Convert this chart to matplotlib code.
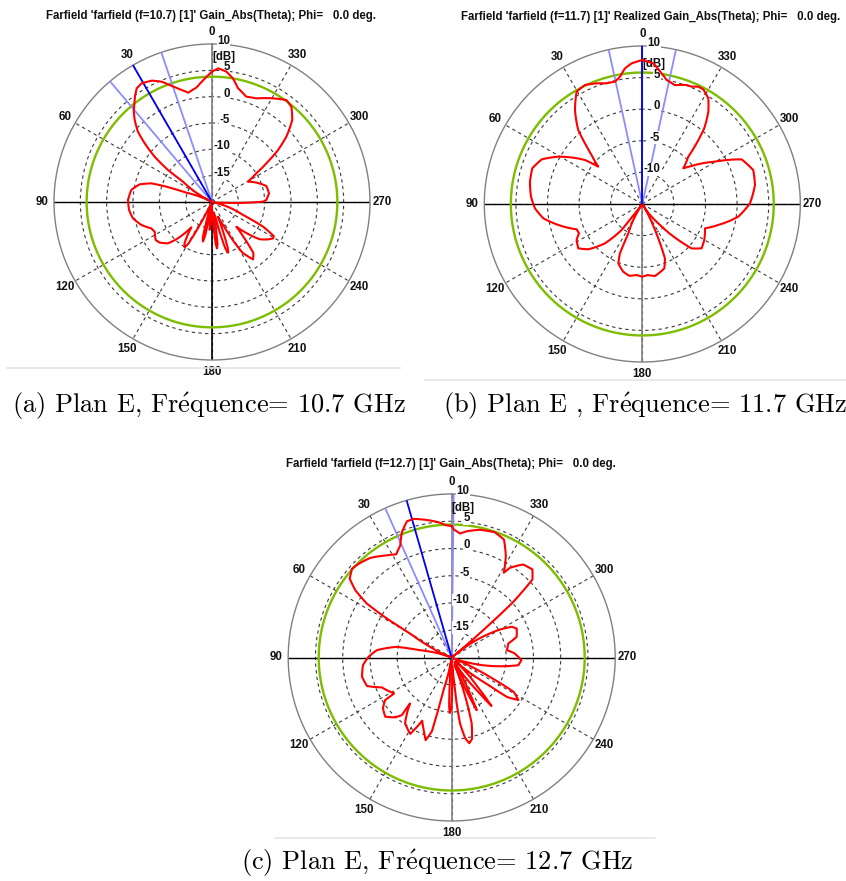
import numpy as np
import matplotlib.pyplot as plt
from matplotlib.lines import Line2D

plt.rcParams['mathtext.fontset'] = 'cm'

# ---------------------------------------------------------------------------
# Data (theta in deg, gain in dB)
# ---------------------------------------------------------------------------
theta_a = [0, 3.2, 7.6, 12.2, 15.2, 19.2, 22.7, 26.4, 30.7, 33.5, 36.2, 39.2, 40.4,
           43.3, 46.5, 48.9, 51.7, 54.0, 55.0, 60.4, 63, 70, 71.4, 72.9, 76.3, 81.5,
           88.6, 95.5, 101.7, 108, 113.5, 117.4, 124, 127.8, 133.2, 136.3, 138.9,
           140.8, 146.5, 148.9, 150.5, 152, 153.5, 163, 165.5, 167.2, 168.5, 170,
           173.5, 175.2, 176.5, 178, 183, 185, 186.2, 187.5, 189.5, 193, 196, 197.5,
           199, 202, 206, 211, 215.6, 219, 222, 224.6, 232, 236.3, 239.2, 241.1,
           244.2, 247.2, 254.7, 258, 266, 268.5, 270.4, 272.1, 278.6, 286.4, 293.6,
           299.5, 302.9, 305.4, 308.2, 311.3, 315.6, 320.2, 323.9, 329.5, 336.8,
           342, 347.1, 350.4, 353.7, 357.3, 360]
gain_a = [4.75, 3.52, 1.96, 1.24, 2.03, 3.32, 4.76, 5.73, 6.19, 5.89, 4.77, 3.35, 2.94,
          1.4, -0.6, -3.04, -6.1, -9.7, -13.3, -17.3, -19.8, -14.8, -10.9, -7.95, -5.86,
          -4.51, -4.05, -4.18, -4.68, -5.9, -7.44, -7.74, -7.1, -7.42, -8.54, -10.2,
          -12.1, -13.8, -10.5, -9.95, -11, -15, -19.5, -18, -13, -12.3, -13.5, -19,
          -17, -14.7, -16, -19.5, -17, -12, -11.15, -12, -18, -17, -10.8, -9.9,
          -10.8, -17, -15, -8.8, -6.6, -7.5, -11, -13.4, -8.5, -7.2, -6.5, -6.6,
          -9.2, -13.6, -17.8, -19.8, -18.2, -14, -10.3, -9.7, -9.05, -9.24, -10.8,
          -12.15, -10, -7.34, -4.05, -1.2, 1.78, 3.55, 3.96, 2.84, 1.4,
          1.03, 2.15, 3.8, 4.9, 5.41, 4.75]

theta_b = [0, 4.3, 7.3, 9.9, 12.6, 16.5, 20.7, 25.7, 30.3, 35.6, 40.9, 43.4, 46, 49.7,
           52.5, 60.6, 66.1, 72, 78.8, 86.2, 92.3, 98.2, 104, 111.1, 114.8, 118.7,
           124.7, 130, 136.5, 141.5, 141.8, 146, 150.6, 154.5, 155.6, 158, 164.3,
           169.7, 175.4, 180, 184.3, 190, 198.9, 202.6, 204, 206, 211, 219.6, 225,
           228, 233.2, 239.9, 248.8, 254.6, 262.5, 270.4, 279.6, 287, 294.2, 300.2,
           307.6, 311, 315.8, 318.2, 320.7, 324.4, 328, 332, 334.5, 337.2, 339.6,
           343.2, 344.7, 348.9, 351.6, 355.5, 360]
gain_b = [7.78, 7.32, 6.63, 5.45, 4.83, 4.91, 5.41, 5.9, 5.6, 3.3, 0.48, -1.8, -3.85, -5.86,
          -3.57, 0.26, 2.42, 3.3, 3.12, 2.65, 2.0, 0.83, -1.3, -3.87, -3.97, -3.15,
          -2.68, -3.85, -6.42, -9.75, -13.1, -14.8, -12.1, -9.86, -6.43, -4.87, -3.87,
          -3.45, -3.73, -3.5, -3.73, -3.43, -4.24, -5.69, -7.7, -10.4, -14.8, -11.03, -6.95,
          -4.5, -3.29, -3.66, -4.36, -2.53, 0.32, 2.04, 3.08, 3.36, 2.23, -1.69,
          -5.15, -6.4, -4.56, -2.1, 0.48, 2.96, 4.71, 5.55, 5.57, 5.14, 5.1,
          4.67, 4.5, 5.0, 5.9, 7.3, 7.78]

theta_c = [0, 2.2, 5.6, 10.3, 15.4, 18.2, 21.7, 24.7, 28.3, 33.1, 39.2, 44.8, 48.3, 52.3,
           55.1, 57.6, 59, 60, 63.8, 70, 77, 79, 84.4, 89.5, 94.9, 102.1, 108.6, 113.2,
           122, 122.6, 126.5, 131.7, 136.6, 139.1, 137.8, 144.7, 151.5, 155, 159.5,
           162.5, 165, 166, 170, 175.5, 177, 178, 179.5, 181, 183, 185, 186, 187.2,
           189.5, 191.6, 194, 196.9, 199.7, 202, 203.5, 205.4, 207.5, 211, 217, 219.4,
           221.5, 227, 233, 234.5, 237.5, 241, 243, 247, 252, 258, 263.4, 267.8, 274,
           277.6, 283.9, 287.6, 294, 297, 300.1, 305.9, 309.5, 311, 312, 314, 317.5,
           322.5, 327, 328.4, 331.9, 336.1, 341, 347.5, 353, 356.2, 359, 360]
gain_c = [4.1, 4.23, 4.94, 5.65, 6.38, 6.3, 4.74, 2.6, 1.5, 2.33, 3.6, 4.23, 4.49, 3.65,
          1.55, -1.6, -6.15, -11.2, -15.6, -19.7, -14.05, -9.75, -6.2, -4.75, -3.66, -3.17,
          -3.6, -6.07, -7.56, -5.5, -4.3, -3.67, -4.9, -6.0, -8.6, -5.2, -4.04, -7.2,
          -5.5, -4.1, -6, -14, -19.5, -16, -11, -9.8, -10.5, -15, -19.5, -17, -12, -7.8,
          -5, -3.94, -4.6, -7.4, -13.6, -18.5, -14, -9.3, -14, -19, -13, -8.5,
          -13, -19, -12, -7.5, -5.5, -7, -12, -19.5, -17.5, -12.5, -7.7, -7.2, -8.5,
          -9.8, -9.3, -7.5, -6.94, -7.6, -9.75, -15.1, -19.8, -12, -5, 0.6, 1.92,
          1.52, -0.38, -1.74, 1.09, 3.67, 4.3, 4.0, 3.35, 2.8, 3.48, 4.1]

# level of the green circle, main beam direction and -3 dB edges
green_level = [3.8, 5.8, 4.4]
main_beam = [30.0, 0.0, 16.0]
beam_edges = [[18.7, 40.2], [12.3, -12.3], [24.0, -0.7]]
r_min = [-20, -15, -20]

titles = ["Farfield 'farfield (f=10.7) [1]' Gain_Abs(Theta); Phi=   0.0 deg.",
          "Farfield 'farfield (f=11.7) [1]' Realized Gain_Abs(Theta); Phi=   0.0 deg.",
          "Farfield 'farfield (f=12.7) [1]' Gain_Abs(Theta); Phi=   0.0 deg."]
captions = [r"(a) Plan E, Fr$\acute{\mathrm{e}}$quence= 10.7 GHz",
            r"(b) Plan E , Fr$\acute{\mathrm{e}}$quence= 11.7 GHz",
            r"(c) Plan E, Fr$\acute{\mathrm{e}}$quence= 12.7 GHz"]

# ---------------------------------------------------------------------------
W, H = 846, 881
fig = plt.figure(figsize=(W / 100, H / 100), dpi=100)

LBL = dict(family='Liberation Sans', fontweight='bold', fontsize=8.3, color='#111111')


def panel(cx, cy, R, theta, gain, rmin, green, beam, edges, title, title_xy, lower_col):
    ax = fig.add_axes([(cx - R) / W, 1 - (cy + R) / H, 2 * R / W, 2 * R / H],
                      projection='polar')
    ax.set_theta_zero_location('N')
    ax.set_theta_direction(1)
    ax.set_ylim(rmin, 10)
    levels = list(range(5, rmin, -5))
    ax.set_rgrids(levels, labels=[''] * len(levels))
    ax.set_thetagrids(np.arange(0, 360, 30), labels=[''] * 12)
    ax.grid(True, color='#3a3a3a', lw=0.8, ls=(0, (3, 3)))
    ax.spines['polar'].set_color('#808080')
    ax.spines['polar'].set_linewidth(1.0)

    # solid axis lines
    ax.plot([np.pi / 2, np.pi / 2], [rmin, 10], color='black', lw=1.0, zorder=2)
    ax.plot([3 * np.pi / 2, 3 * np.pi / 2], [rmin, 10], color='black', lw=1.0, zorder=2)
    ax.plot([0, 0], [rmin, 10], color='#808080', lw=1.2, zorder=2)
    ax.plot([np.pi, np.pi], [rmin, 10], color=lower_col, lw=1.2, zorder=2)

    # green level circle
    t = np.linspace(0, 2 * np.pi, 361)
    ax.plot(t, np.full_like(t, green), color='#7dbd00', lw=1.7, zorder=3)

    # beam lines
    for e in edges:
        ax.plot([np.radians(e)] * 2, [rmin, 10], color='#8c8cff', lw=1.3, zorder=3)
    ax.plot([np.radians(beam)] * 2, [rmin, 10], color='#0000ee', lw=1.3, zorder=3)

    # pattern (drawn along polar arcs between the read points)
    line, = ax.plot(np.radians(theta), gain, color='#ff0000', lw=1.5, zorder=5)
    line.get_path()._interpolation_steps = 12

    # angle labels
    f = 1.076
    for a in range(0, 360, 30):
        x = 0.5 - 0.5 * f * np.sin(np.radians(a))
        y = 0.5 + 0.5 * f * np.cos(np.radians(a))
        ax.text(x, y, str(a), transform=ax.transAxes, ha='center', va='center', **LBL)

    # radial labels, right aligned just right of the vertical axis
    dx = 18 / (2 * R)
    dy = 3 / (2 * R)
    y5 = 0.5 + 0.5 * (5 - rmin) / (10 - rmin) + dy
    ax.text(0.5, y5 + 10.5 / (2 * R), '[dB]', transform=ax.transAxes, ha='left',
            va='center', zorder=4, **LBL)
    for lv in [10] + levels:
        y = 0.5 + 0.5 * (lv - rmin) / (10 - rmin) + dy
        ax.text(0.5 + dx, y, str(lv), transform=ax.transAxes, ha='right', va='center',
                zorder=4, bbox=dict(facecolor='white', edgecolor='none', pad=0.3), **LBL)

    fig.text(title_xy[0] / W, 1 - title_xy[1] / H, title, ha='center', va='center', **LBL)
    return ax


panel(212, 202, 158, theta_a, gain_a, r_min[0], green_level[0], main_beam[0],
      beam_edges[0], titles[0], (211, 15.7), 'black')
panel(642.3, 204, 158, theta_b, gain_b, r_min[1], green_level[1], main_beam[1],
      beam_edges[1], titles[1], (650.5, 17.3), '#808080')
panel(451.7, 657.5, 163.5, theta_c, gain_c, r_min[2], green_level[2], main_beam[2],
      beam_edges[2], titles[2], (451, 464), '#808080')

# faint frame lines below each screenshot
for x0, x1, y in [(7, 400, 368), (425, 846, 380), (275, 655, 838)]:
    fig.add_artist(Line2D([x0 / W, x1 / W], [1 - y / H] * 2, transform=fig.transFigure,
                          color='#e4e4e4', lw=1.2))

# captions
CAP = dict(family='cmr10', fontsize=19, ha='center', va='center')
fig.text(209 / W, 1 - 406 / H, captions[0], **CAP)
fig.text(645 / W, 1 - 406 / H, captions[1], **CAP)
fig.text(437.5 / W, 1 - 863 / H, captions[2], **CAP)

fig.savefig('out.png', dpi=100, facecolor='white')
